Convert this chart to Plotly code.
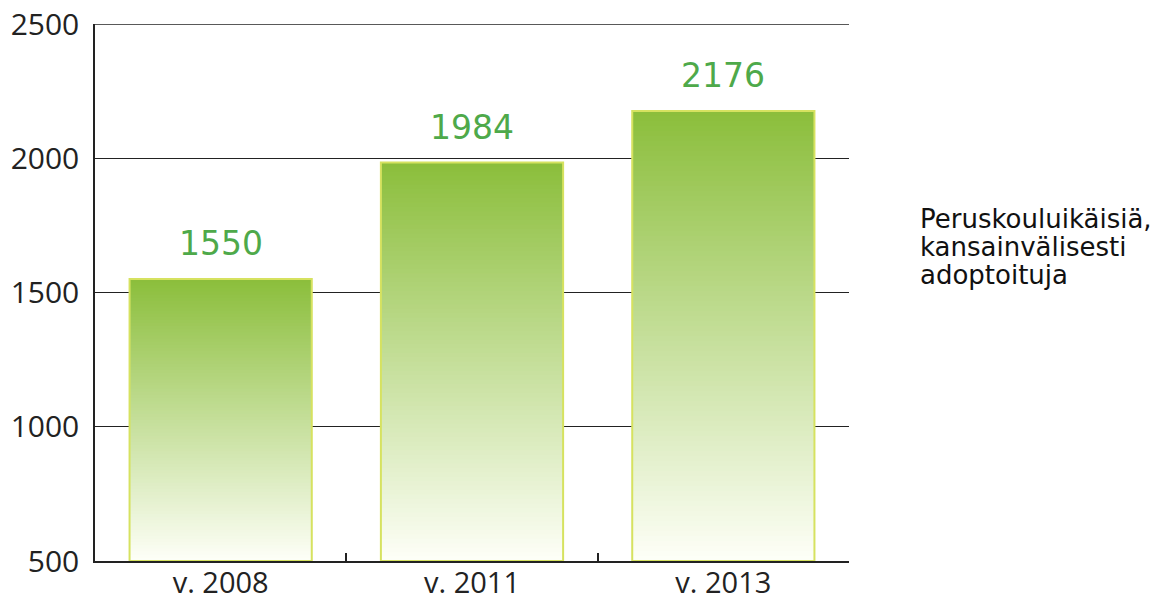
import plotly.graph_objects as go

categories = ["v. 2008", "v. 2011", "v. 2013"]
values = [1550, 1984, 2176]
y_ticks = [500, 1000, 1500, 2000, 2500]
side_lines = ["Peruskouluikäisiä,", "kansainvälisesti", "adoptoituja"]

BASE = 500
TOP_RGB = (139, 190, 59)
BOTTOM_RGB = (254, 255, 248)
N = 90

# page body has an 8px default margin; compensate so the plot lands where intended
OFF = 8
W, HT = 1161 - OFF, 598 - OFF
L, R, T, B = 95 - OFF, 312, 24 - OFF, 37
H = HT - T - B
PW = W - L - R

fig = go.Figure()

# Gradient fill: nested bars from tallest (darkest) to shortest (lightest)
for k in range(N - 1, -1, -1):
    t = (k + 0.5) / N
    c = tuple(round(BOTTOM_RGB[i] + (TOP_RGB[i] - BOTTOM_RGB[i]) * t) for i in range(3))
    fig.add_trace(go.Bar(
        x=categories,
        y=[(v - BASE) * (k + 1) / N for v in values],
        base=[BASE] * len(values),
        marker=dict(color=f"rgb{c}", line=dict(width=0)),
        width=0.725,
        hoverinfo="skip",
        showlegend=False,
    ))

# Outline
fig.add_trace(go.Bar(
    x=categories,
    y=[v - BASE for v in values],
    base=[BASE] * len(values),
    marker=dict(color="rgba(0,0,0,0)", line=dict(color="rgb(214,226,96)", width=2)),
    width=0.725,
    showlegend=False,
))

for c, v in zip(categories, values):
    fig.add_annotation(
        x=c, y=v, text=str(v), showarrow=False,
        yanchor="bottom", yshift=14,
        font=dict(family="DejaVu Sans", size=33, color="#4ea94a"),
    )

for i, line in enumerate(side_lines):
    yc = 219 + 28 * i  # page pixel centre
    fig.add_annotation(
        xref="paper", yref="paper",
        x=(918 - 95) / PW, y=(561 - yc) / H,
        xanchor="left", yanchor="middle", align="left",
        text=line, showarrow=False,
        font=dict(family="DejaVu Sans", size=26, color="#111111"),
    )

# top frame line at the last y tick
fig.add_shape(type="line", xref="paper", yref="y", x0=0, x1=1,
              y0=y_ticks[-1], y1=y_ticks[-1],
              line=dict(color="#222222", width=1.3), layer="below")

fig.update_layout(
    barmode="overlay",
    width=W, height=HT,
    margin=dict(l=L, r=R, t=T, b=B, autoexpand=False),
    paper_bgcolor="white", plot_bgcolor="white",
    showlegend=False,
)
fig.update_xaxes(
    showline=True, linecolor="#222222", linewidth=1.5,
    ticks="inside", tickson="boundaries", ticklen=8, tickcolor="#222222", tickwidth=1.5,
    showgrid=False, layer="below traces", automargin=False,
    ticklabelstandoff=-5, ticklabeloverflow="allow",
    tickfont=dict(family="Open Sans", size=29, color="#222222"),
)
fig.update_yaxes(
    range=[500, 2500], tickvals=y_ticks,
    showline=True, linecolor="#222222", linewidth=1.5,
    showgrid=True, gridcolor="#222222", gridwidth=1.3,
    zeroline=False, ticks="", ticklabelstandoff=8,
    ticklabeloverflow="allow",
    layer="below traces", automargin=False,
    tickfont=dict(family="Open Sans", size=30, color="#222222"),
)

fig.write_html("out.html")
